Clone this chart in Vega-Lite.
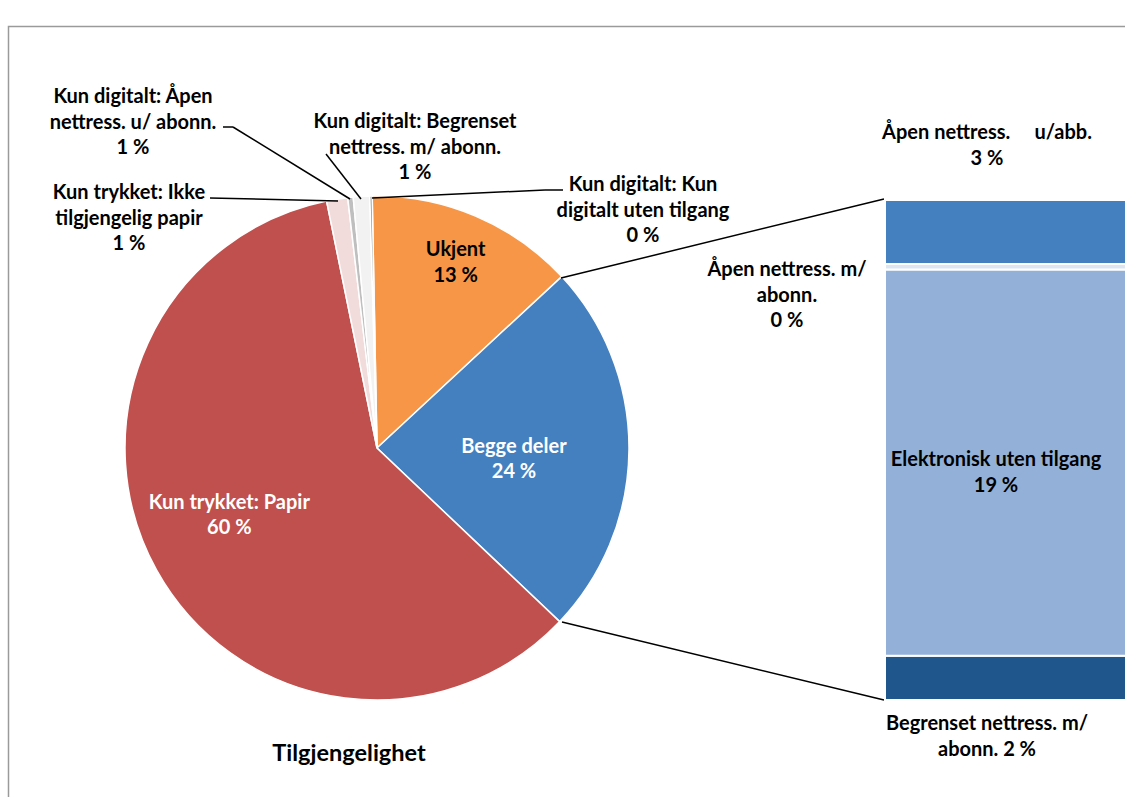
{
  "$schema": "https://vega.github.io/schema/vega-lite/v6.json",
  "width": 1125,
  "height": 797,
  "autosize": {"type": "none"},
  "padding": 0,
  "background": "#ffffff",
  "config": {
    "view": {"stroke": null},
    "axis": {"disable": true},
    "legend": {"disable": true},
    "text": {"font": "Lato", "fontWeight": "bold", "fontSize": 20, "lineHeight": 25.5, "lineBreak": "\n", "baseline": "middle", "align": "center", "fill": "#000000"},
    "rule": {"stroke": "#000000", "strokeWidth": 1.5}
  },
  "datasets": {
    "pie": [
      {"i": 1, "name": "Ukjent", "label": "Ukjent\n13 %", "value": 13.4},
      {"i": 2, "name": "Begge deler", "label": "Begge deler\n24 %", "value": 24.0},
      {"i": 3, "name": "Kun trykket: Papir", "label": "Kun trykket: Papir\n60 %", "value": 59.7},
      {"i": 4, "name": "Kun trykket: Ikke tilgjengelig papir", "label": "Kun trykket: Ikke\ntilgjengelig papir\n1 %", "value": 1.35},
      {"i": 5, "name": "Kun digitalt: Åpen nettress. u/ abonn.", "label": "Kun digitalt: Åpen\nnettress. u/ abonn.\n1 %", "value": 0.35},
      {"i": 6, "name": "Kun digitalt: Begrenset nettress. m/ abonn.", "label": "Kun digitalt: Begrenset\nnettress. m/ abonn.\n1 %", "value": 1.05},
      {"i": 7, "name": "Kun digitalt: Kun digitalt uten tilgang", "label": "Kun digitalt: Kun\ndigitalt uten tilgang\n0 %", "value": 0.15}
    ],
    "bar": [
      {"j": 1, "name": "Begrenset nettress. m/ abonn.", "label": "Begrenset nettress. m/\nabonn. 2 %", "value": 2.13},
      {"j": 2, "name": "Elektronisk uten tilgang", "label": "Elektronisk uten tilgang\n19 %", "value": 18.53},
      {"j": 3, "name": "Åpen nettress. m/ abonn.", "label": "Åpen nettress. m/\nabonn.\n0 %", "value": 0.27},
      {"j": 4, "name": "Åpen nettress. u/abb.", "label": "Åpen nettress.\u00a0\u00a0\u00a0\u00a0 u/abb.\n3 %", "value": 3.07}
    ],
    "one": [{"t": "Tilgjengelighet"}]
  },
  "resolve": {"scale": {"y": "independent", "color": "independent"}},
  "layer": [
    {
      "layer": [
        {
          "data": {"name": "one"},
          "mark": {"type": "rect", "filled": false, "stroke": "#9a9a9a", "strokeWidth": 1.5},
          "encoding": {
            "x": {"datum": 8.5, "type": "quantitative", "scale": {"domain": [0, 1125], "nice": false, "zero": false}, "axis": null},
            "x2": {"datum": 1140},
            "y": {"datum": 26.5, "type": "quantitative", "scale": {"domain": [0, 797], "reverse": true, "nice": false, "zero": false}, "axis": null},
            "y2": {"datum": 815}
          }
        },
        {
          "data": {"name": "pie"},
          "mark": {"type": "arc", "outerRadius": 252, "stroke": "#ffffff", "strokeWidth": 1.5},
          "encoding": {
            "x": {"datum": 377},
            "y": {"datum": 448},
            "theta": {"field": "value", "type": "quantitative", "stack": true, "scale": {"range": [-0.0192, 6.2640]}},
            "order": {"field": "i", "type": "quantitative"},
            "color": {
              "field": "name", "type": "nominal", "legend": null,
              "scale": {
                "domain": ["Ukjent", "Begge deler", "Kun trykket: Papir", "Kun trykket: Ikke tilgjengelig papir", "Kun digitalt: Åpen nettress. u/ abonn.", "Kun digitalt: Begrenset nettress. m/ abonn.", "Kun digitalt: Kun digitalt uten tilgang"],
                "range": ["#F79646", "#4480BF", "#C0504D", "#F2DCDB", "#BFBFBF", "#F2F2F2", "#8C8C8C"]
              }
            }
          }
        },
        {
          "data": {"name": "pie"},
          "mark": {"type": "text", "radius": 201, "dy": -13, "fill": "#000000"},
          "encoding": {
            "x": {"datum": 377},
            "y": {"datum": 448},
            "theta": {"field": "value", "type": "quantitative", "stack": true},
            "order": {"field": "i", "type": "quantitative"},
            "detail": {"field": "name"},
            "text": {"condition": {"test": "datum.i === 1", "field": "label"}, "value": ""}
          }
        },
        {
          "data": {"name": "pie"},
          "mark": {"type": "text", "radius": 137, "dy": -2, "fill": "#ffffff"},
          "encoding": {
            "x": {"datum": 377},
            "y": {"datum": 448},
            "theta": {"field": "value", "type": "quantitative", "stack": true},
            "order": {"field": "i", "type": "quantitative"},
            "detail": {"field": "name"},
            "text": {"condition": {"test": "datum.i === 2", "field": "label"}, "value": ""}
          }
        },
        {
          "data": {"name": "pie"},
          "mark": {"type": "text", "radius": 162, "dx": -6, "dy": -24, "fill": "#ffffff"},
          "encoding": {
            "x": {"datum": 377},
            "y": {"datum": 448},
            "theta": {"field": "value", "type": "quantitative", "stack": true},
            "order": {"field": "i", "type": "quantitative"},
            "detail": {"field": "name"},
            "text": {"condition": {"test": "datum.i === 3", "field": "label"}, "value": ""}
          }
        },
        {
          "data": {"name": "pie"},
          "transform": [{"filter": "datum.i === 4"}],
          "mark": {"type": "text"},
          "encoding": {"x": {"datum": 129}, "y": {"datum": 193}, "text": {"field": "label"}}
        },
        {
          "data": {"name": "pie"},
          "transform": [{"filter": "datum.i === 5"}],
          "mark": {"type": "text"},
          "encoding": {"x": {"datum": 133}, "y": {"datum": 97}, "text": {"field": "label"}}
        },
        {
          "data": {"name": "pie"},
          "transform": [{"filter": "datum.i === 6"}],
          "mark": {"type": "text"},
          "encoding": {"x": {"datum": 415}, "y": {"datum": 122}, "text": {"field": "label"}}
        },
        {
          "data": {"name": "pie"},
          "transform": [{"filter": "datum.i === 7"}],
          "mark": {"type": "text"},
          "encoding": {"x": {"datum": 643}, "y": {"datum": 185}, "text": {"field": "label"}}
        },
        {
          "data": {"name": "bar"},
          "transform": [{"filter": "datum.j === 4"}],
          "mark": {"type": "text"},
          "encoding": {"x": {"datum": 987}, "y": {"datum": 133}, "text": {"field": "label"}}
        },
        {
          "data": {"name": "bar"},
          "transform": [{"filter": "datum.j === 3"}],
          "mark": {"type": "text"},
          "encoding": {"x": {"datum": 787}, "y": {"datum": 270}, "text": {"field": "label"}}
        },
        {
          "data": {"name": "bar"},
          "transform": [{"filter": "datum.j === 1"}],
          "mark": {"type": "text"},
          "encoding": {"x": {"datum": 987}, "y": {"datum": 724}, "text": {"field": "label"}}
        },
        {
          "data": {"name": "one"},
          "mark": {"type": "text", "fontSize": 23.5},
          "encoding": {"x": {"datum": 349}, "y": {"datum": 754}, "text": {"field": "t"}}
        },
        {
          "data": {"name": "one"},
          "mark": {"type": "rule"},
          "encoding": {"x": {"datum": 210}, "y": {"datum": 198}, "x2": {"datum": 338}, "y2": {"datum": 201}}
        },
        {
          "data": {"name": "one"},
          "mark": {"type": "rule"},
          "encoding": {"x": {"datum": 223}, "y": {"datum": 127}, "x2": {"datum": 233}, "y2": {"datum": 127}}
        },
        {
          "data": {"name": "one"},
          "mark": {"type": "rule"},
          "encoding": {"x": {"datum": 233}, "y": {"datum": 127}, "x2": {"datum": 350}, "y2": {"datum": 199}}
        },
        {
          "data": {"name": "one"},
          "mark": {"type": "rule"},
          "encoding": {"x": {"datum": 326}, "y": {"datum": 154}, "x2": {"datum": 361}, "y2": {"datum": 199}}
        },
        {
          "data": {"name": "one"},
          "mark": {"type": "rule"},
          "encoding": {"x": {"datum": 372}, "y": {"datum": 198}, "x2": {"datum": 545}, "y2": {"datum": 190}}
        },
        {
          "data": {"name": "one"},
          "mark": {"type": "rule"},
          "encoding": {"x": {"datum": 545}, "y": {"datum": 190}, "x2": {"datum": 563}, "y2": {"datum": 190}}
        },
        {
          "data": {"name": "one"},
          "mark": {"type": "rule"},
          "encoding": {"x": {"datum": 561}, "y": {"datum": 278}, "x2": {"datum": 884}, "y2": {"datum": 199}}
        },
        {
          "data": {"name": "one"},
          "mark": {"type": "rule"},
          "encoding": {"x": {"datum": 562}, "y": {"datum": 622}, "x2": {"datum": 884}, "y2": {"datum": 700}}
        }
      ]
    },
    {
      "layer": [
        {
          "data": {"name": "bar"},
          "transform": [{"stack": "value", "groupby": [], "sort": [{"field": "j", "order": "ascending"}], "as": ["v0", "v1"]}],
          "mark": {"type": "rect", "stroke": "#ffffff", "strokeWidth": 2},
          "encoding": {
            "x": {"datum": 885},
            "x2": {"datum": 1127},
            "y": {"field": "v0", "type": "quantitative", "scale": {"domain": [-4.656, 33.6], "nice": false, "zero": false}, "axis": null},
            "y2": {"field": "v1"},
            "color": {
              "field": "name", "type": "nominal", "legend": null,
              "scale": {
                "domain": ["Begrenset nettress. m/ abonn.", "Elektronisk uten tilgang", "Åpen nettress. m/ abonn.", "Åpen nettress. u/abb."],
                "range": ["#1F578D", "#93B1D8", "#DCE6F2", "#4480BF"]
              }
            }
          }
        }
      ]
    },
    {
      "data": {"name": "bar"},
      "transform": [{"filter": "datum.j === 2"}],
      "mark": {"type": "text"},
      "encoding": {
        "x": {"datum": 996},
        "y": {"datum": 460, "type": "quantitative", "scale": {"domain": [0, 797], "reverse": true, "nice": false, "zero": false}, "axis": null},
        "text": {"field": "label"}
      }
    }
  ]
}
